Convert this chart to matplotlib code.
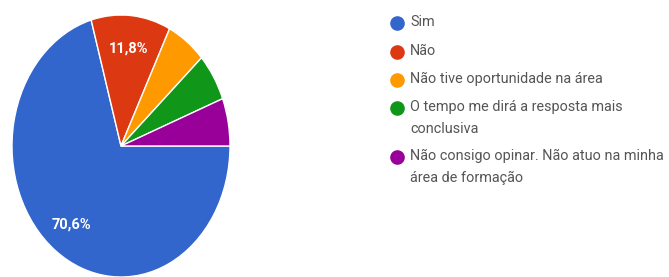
import matplotlib
matplotlib.use("Agg")
import matplotlib.pyplot as plt

labels = ["Sim", "Não", "Não tive oportunidade na área",
          "O tempo me dirá a resposta mais\nconclusiva",
          "Não consigo opinar. Não atuo na minha\nárea de formação"]
values = [12, 2, 1, 1, 1]
colors = ["#3366CC", "#DC3912", "#FF9900", "#109618", "#990099"]

W, H = 669, 277
fig = plt.figure(figsize=(W / 100, H / 100), dpi=100)

# pie axes (elliptical: horizontal radius ~109px, vertical ~131px)
cx, cy, rx, ry = 121, 146, 109, 131
ax = fig.add_axes([(cx - rx) / W, (H - cy - ry) / H, 2 * rx / W, 2 * ry / H])

def fmt(p):
    return ("%.1f%%" % p).replace(".", ",") if p > 10 else ""

wedges, texts, autotexts = ax.pie(values, colors=colors, startangle=0, counterclock=False,
                                  autopct=fmt, pctdistance=0.75,
                                  wedgeprops=dict(edgecolor="white", linewidth=1))
for t in autotexts:
    t.set_color("white")
    t.set_fontsize(10.5)
    t.set_fontweight("bold")
    t.set_family("Roboto")
ax.set_xlim(-1, 1)
ax.set_ylim(-1, 1)
ax.set_aspect("auto")
ax.axis("off")

# legend overlay in pixel coords
lax = fig.add_axes([0, 0, 1, 1])
lax.set_xlim(0, W)
lax.set_ylim(H, 0)
lax.axis("off")
ys = [23, 52, 80, 108, 157]
for y, lab, c in zip(ys, labels, colors):
    lax.plot([397], [y], marker="o", markersize=9.5, color=c, linestyle="none")
    lax.text(410, y - 8, lab, fontsize=10.4, family="Roboto", color="#555555",
             va="top", ha="left", linespacing=1.72)

fig.savefig("out.png", dpi=100)
